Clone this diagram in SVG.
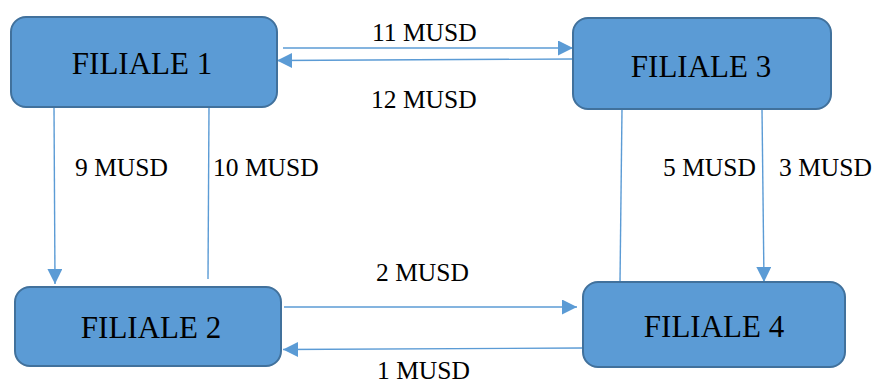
<svg xmlns="http://www.w3.org/2000/svg" width="876" height="385" viewBox="0 0 876 385">
<style>
.box{fill:#5B9BD5;stroke:#41719C;stroke-width:2}
.nl{font-family:"Liberation Serif","Times New Roman",serif;font-size:31px;fill:#000;text-anchor:middle}
.el{font-family:"Liberation Serif","Times New Roman",serif;font-size:25.5px;fill:#000}
.c{stroke:#5B9BD5;stroke-width:1.4;fill:none}
</style>
<defs>
<marker id="ah" markerUnits="userSpaceOnUse" markerWidth="16" markerHeight="16" refX="15" refY="7.5" orient="auto">
<path d="M0,0 L15,7.5 L0,15 Z" fill="#5B9BD5"/>
</marker>
</defs>
<rect width="876" height="385" fill="#fff"/>
<g id="connectors">
<line class="c" x1="283" y1="48" x2="573" y2="48" marker-end="url(#ah)"/>
<line class="c" x1="573" y1="59" x2="277" y2="60.5" marker-end="url(#ah)"/>
<line class="c" x1="54" y1="107" x2="55" y2="284" marker-end="url(#ah)"/>
<line class="c" x1="209" y1="107" x2="208" y2="279"/>
<line class="c" x1="622" y1="109" x2="620" y2="282"/>
<line class="c" x1="762" y1="109" x2="764" y2="282" marker-end="url(#ah)"/>
<line class="c" x1="284" y1="307" x2="577" y2="307" marker-end="url(#ah)"/>
<line class="c" x1="583" y1="348" x2="283" y2="349.5" marker-end="url(#ah)"/>
</g>
<g id="edge-labels">
<text class="el" x="372" y="41">11 MUSD</text>
<text class="el" x="371" y="108">12 MUSD</text>
<text class="el" x="75" y="176">9 MUSD</text>
<text class="el" x="213" y="176">10 MUSD</text>
<text class="el" x="663" y="176">5 MUSD</text>
<text class="el" x="779" y="176">3 MUSD</text>
<text class="el" x="376" y="281">2 MUSD</text>
<text class="el" x="377" y="379">1 MUSD</text>
</g>
<g id="filiale1">
<rect class="box" x="11" y="17" width="266" height="90" rx="15"/>
<text class="nl" x="142" y="74">FILIALE 1</text>
</g>
<g id="filiale3">
<rect class="box" x="573" y="18" width="258" height="91" rx="15"/>
<text class="nl" x="701" y="77">FILIALE 3</text>
</g>
<g id="filiale2">
<rect class="box" x="15" y="287" width="266" height="79" rx="15"/>
<text class="nl" x="151" y="338">FILIALE 2</text>
</g>
<g id="filiale4">
<rect class="box" x="583" y="282" width="262" height="85" rx="15"/>
<text class="nl" x="714" y="337">FILIALE 4</text>
</g>
</svg>
